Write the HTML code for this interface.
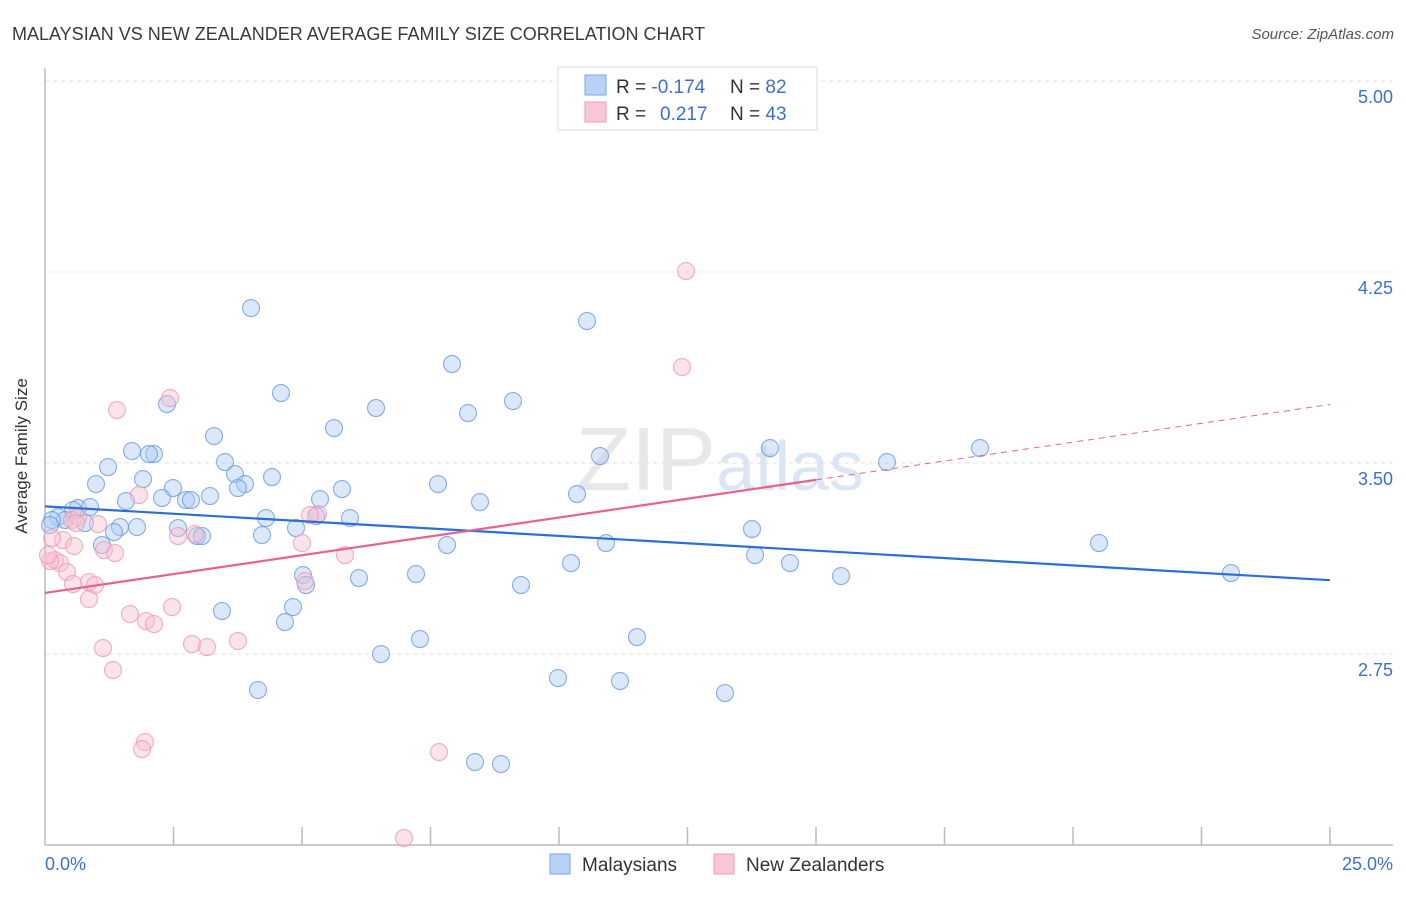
<!DOCTYPE html>
<html><head><meta charset="utf-8"><style>
body{margin:0;background:#fff;font-family:"Liberation Sans",sans-serif}
svg text{font-family:"Liberation Sans",sans-serif}
</style></head><body>
<svg id="c" width="1406" height="892" xmlns="http://www.w3.org/2000/svg">
<text x="12" y="40" font-size="18" fill="#3a3a3a">MALAYSIAN VS NEW ZEALANDER AVERAGE FAMILY SIZE CORRELATION CHART</text>
<text x="1394" y="39" font-size="15" fill="#555" font-style="italic" text-anchor="end">Source: ZipAtlas.com</text>
<text x="720" y="490" font-size="90" fill="#e8e8e8" text-anchor="middle" font-family="Liberation Serif">ZIP<tspan fill="#dbe5f3" font-family="Liberation Sans" font-size="70">atlas</tspan></text>
<g id="grid"></g>
<g id="axes"></g>
<g id="pts"></g>
<g id="trend"></g>
<text x="27" y="456" font-size="17" fill="#333" text-anchor="middle" transform="rotate(-90 27 456)">Average Family Size</text>
<text x="45" y="870" font-size="18" fill="#3b6fd0">0.0%</text>
<text x="1393" y="870" font-size="18" fill="#3b6fd0" text-anchor="end">25.0%</text>
<g>
<rect x="558" y="67" width="259" height="63" fill="#fff" stroke="#ddd"/>
<rect x="585" y="75" width="21" height="20" fill="#b9d2f4" stroke="#7aa6e6"/>
<rect x="585" y="102" width="21" height="20" fill="#f9c8d6" stroke="#ef9ab4"/>
<text x="616" y="93" font-size="19" fill="#333">R = <tspan fill="#3b6fd0">-0.174</tspan><tspan x="730">N = </tspan><tspan fill="#3b6fd0">82</tspan></text>
<text x="616" y="120" font-size="19" fill="#333">R = <tspan x="660" fill="#3b6fd0">0.217</tspan><tspan x="730">N = </tspan><tspan fill="#3b6fd0">43</tspan></text>
</g>
<g>
<rect x="550" y="854" width="20" height="20" fill="#b9d2f4" stroke="#7aa6e6"/>
<text x="582" y="871" font-size="19" fill="#333">Malaysians</text>
<rect x="714" y="854" width="20" height="20" fill="#f9c8d6" stroke="#ef9ab4"/>
<text x="746" y="871" font-size="19" fill="#333">New Zealanders</text>
</g>
</svg>
<script>
const yTicks=[2.75,3.50,4.25,5.00];
const yTickLabels=["2.75","3.50","4.25","5.00"];
const blueX=[251,587,452,281,167,376,513,468,334,214,132,154,149,225,108,770,980,887,600,235,272,143,438,96,245,238,173,342,210,162,186,191,126,320,577,480,78,90,73,58,65,52,85,266,350,316,120,137,178,296,752,114,197,202,262,102,447,606,1099,755,571,790,303,359,416,841,1231,306,521,222,293,285,637,420,381,558,620,258,725,475,501,50];
const blueYpx=[308,321,364,393,404,408,401,413,428,436,451,454,454,462,467,448,448,462,456,474,477,479,484,484,484,488,488,489,496,498,500,500,501,499,494,502,508,507,510,517,520,520,523,518,518,516,527,527,528,528,529,532,536,536,535,545,545,543,543,555,563,563,575,578,574,576,573,585,585,611,607,622,637,639,654,678,681,690,693,762,764,525];
const pinkX=[686,682,170,117,139,72,78,98,76,63,74,104,115,318,310,178,195,302,345,55,60,50,67,89,73,95,89,130,172,146,154,192,207,238,103,113,145,142,439,404,305,52,48];
const pinkYpx=[271,367,398,410,495,520,517,524,523,540,546,550,553,514,515,536,534,543,555,560,563,561,572,582,584,585,599,614,607,621,624,644,647,641,648,670,742,749,752,838,581,538,555];
const toPct=p=>(p-45)/1285*25, toVal=p=>3.5-(p-463)/254.7;
const blueXs=blueX.map(toPct), blueYs=blueYpx.map(toVal);
const pinkXs=pinkX.map(toPct), pinkYs=pinkYpx.map(toVal);
const blueTrend=[3.33,3.04];
const pinkTrend=[2.99,3.73];
const X0=45,X1=1330,Y5=81,PPU=254.7;
const sx=v=>X0+v/25*(X1-X0), sy=v=>Y5+(5-v)*PPU;
const NS="http://www.w3.org/2000/svg";
function mk(t,a,p){const e=document.createElementNS(NS,t);for(const k in a)e.setAttribute(k,a[k]);p.appendChild(e);return e;}
const grid=document.getElementById('grid'),axes=document.getElementById('axes'),pts=document.getElementById('pts'),tr=document.getElementById('trend');
yTicks.forEach((v,i)=>{
 const l=mk('line',{x1:X0,x2:1393,y1:sy(v),y2:sy(v),stroke:'#e2e2e2','stroke-dasharray':'4,4'},grid);
 
 
 const t=mk('text',{x:1393,y:sy(v)+22,'font-size':18,fill:'#3b6fd0','text-anchor':'end'},grid);
 t.textContent=yTickLabels[i];
 
 
});
const ya=mk('line',{x1:X0,x2:X0,y1:68,y2:845,stroke:'#bbb','stroke-width':1.5},axes);


const xa=mk('line',{x1:X0,x2:1393,y1:845,y2:845,stroke:'#bbb','stroke-width':1.5},axes);


for(let i=1;i<=10;i++){const x=sx(i*2.5);const t=mk('line',{x1:x,x2:x,y1:827,y2:845,stroke:'#bbb','stroke-width':1.5},axes);
 
 }
function dots(xs,ys,fill,stroke,name){xs.forEach((x,i)=>{const c=mk('circle',{cx:sx(x),cy:sy(ys[i]),r:8.5,fill:fill,'fill-opacity':0.45,stroke:stroke,'stroke-opacity':0.8,'stroke-width':1.1},pts);
 
 });}
dots(blueXs,blueYs,'#b0cbf2','#6a9be2','malaysian-point');
dots(pinkXs,pinkYs,'#f7c0d0','#ee9ab3','new-zealander-point');
const bl=mk('line',{x1:sx(0),y1:sy(blueTrend[0]),x2:sx(25),y2:sy(blueTrend[1]),stroke:'#2a6fd6','stroke-width':2.2},tr);


const pv=x=>pinkTrend[0]+(pinkTrend[1]-pinkTrend[0])*x/25;
const pl=mk('line',{x1:sx(0),y1:sy(pv(0)),x2:sx(15),y2:sy(pv(15)),stroke:'#e5638f','stroke-width':2.2},tr);


const pd=mk('line',{x1:sx(15),y1:sy(pv(15)),x2:sx(25),y2:sy(pv(25)),stroke:'#e5638f','stroke-width':1,'stroke-dasharray':'6,5'},tr);


</script>
</body></html>
